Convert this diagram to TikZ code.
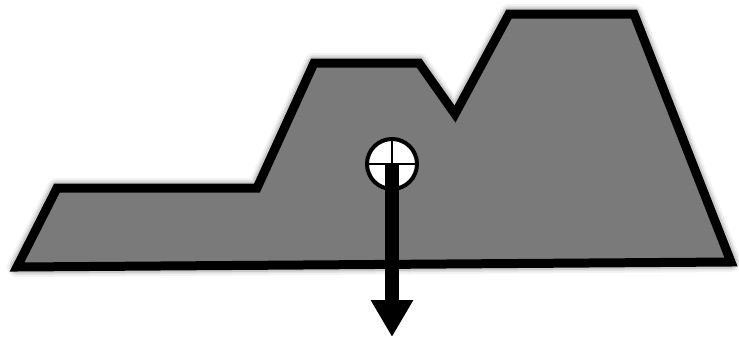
\documentclass[tikz,border=0pt]{standalone}
\usetikzlibrary{arrows.meta}
\definecolor{bodygray}{HTML}{7A7A7A}
\tikzset{
  body/.style={fill=bodygray, draw=black, line width=9pt, line join=miter},
  glow/.style={draw=black, line join=round, fill=none},
  cgmark/.style={circle, draw=black, fill=white, line width=4pt, minimum size=50pt, inner sep=0pt},
  crossline/.style={draw=black, line width=2.5pt},
  weight/.style={draw=black, line width=14pt, -{Triangle[width=40pt,length=37pt]}}
}
\begin{document}
\begin{tikzpicture}[x=1pt,y=-1pt]
\useasboundingbox (0,0) rectangle (739,338);
\coordinate (p1) at (17,267);
\coordinate (p2) at (57,188);
\coordinate (p3) at (257,188);
\coordinate (p4) at (314,63);
\coordinate (p5) at (419,63);
\coordinate (p6) at (455,114);
\coordinate (p7) at (509,14);
\coordinate (p8) at (634,14);
\coordinate (p9) at (731,262);
% soft shadow
\foreach \w/\o in {20/0.05,16/0.07,13/0.1} {
  \draw[glow, line width=\w pt, opacity=\o, shift={(2,-3)}]
    (p1) -- (p2) -- (p3) -- (p4) -- (p5) -- (p6) -- (p7) -- (p8) -- (p9) -- cycle;
}
\draw[body] (p1) -- (p2) -- (p3) -- (p4) -- (p5) -- (p6) -- (p7) -- (p8) -- (p9) -- cycle;
\node[cgmark] (cg) at (392,164) {};
\draw[crossline] (cg.north) -- (cg.south);
\draw[crossline] (cg.west) -- (cg.east);
\coordinate (tip) at (392,337);
\draw[weight] (cg.center) -- (tip);
\end{tikzpicture}
\end{document}
